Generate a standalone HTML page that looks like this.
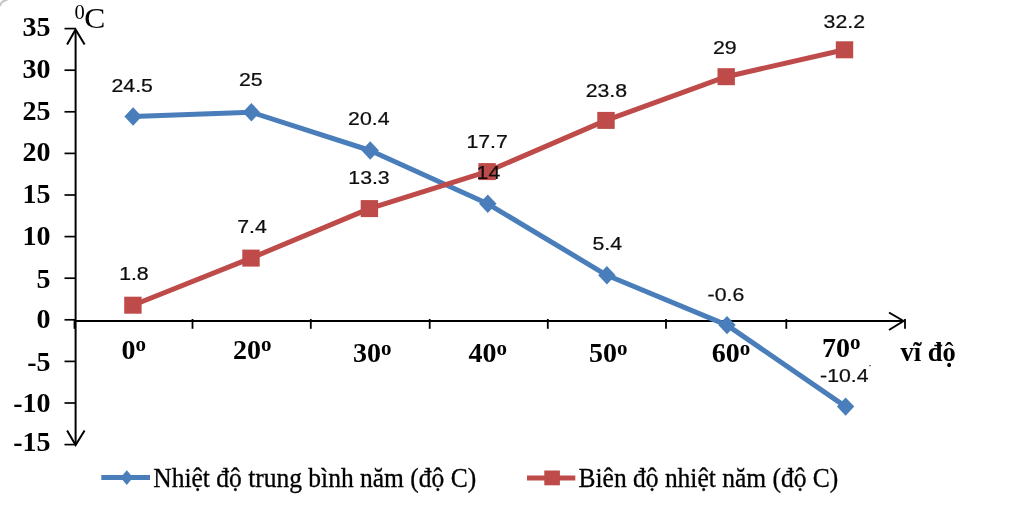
<!DOCTYPE html>
<html lang="vi"><head><meta charset="utf-8"><title>Biểu đồ nhiệt độ theo vĩ độ</title>
<style>
html,body{margin:0;padding:0;background:#fff;}
body{width:1024px;height:526px;overflow:hidden;position:relative;}
svg{position:absolute;left:0;top:0;display:block;}
.yl{font-family:"Liberation Serif",serif;font-weight:bold;font-size:28px;fill:#000;text-anchor:end;}
.xl{font-family:"Liberation Serif",serif;font-weight:bold;font-size:28px;fill:#000;}
.vd{font-family:"Liberation Serif",serif;font-weight:bold;font-size:26.5px;fill:#000;}
.lg{font-family:"Liberation Serif",serif;font-size:25.5px;fill:#000;stroke:#000;stroke-width:0.3px;}
.dl{font-family:"Liberation Sans",sans-serif;font-size:18.5px;fill:#111;text-anchor:middle;stroke:#111;stroke-width:0.25px;}
</style></head><body>
<svg width="1024" height="526" viewBox="0 0 1024 526">
<defs><filter id="soft" x="-2%" y="-2%" width="104%" height="104%"><feGaussianBlur stdDeviation="0.5"/></filter></defs>
<rect width="1024" height="526" fill="#fff"/>
<g filter="url(#soft)">
<path d="M0 6 A8 8 0 0 1 7.5 0" fill="none" stroke="#c6c6c6" stroke-width="2"/>

<g stroke="#000" stroke-width="2" fill="none" stroke-linecap="butt">
<line x1="75.6" y1="30" x2="75.6" y2="444"/>
<line x1="74.6" y1="321" x2="903" y2="321"/>
<line x1="64.5" y1="28.6" x2="75.6" y2="28.6" stroke-width="1.7"/>
<line x1="64.5" y1="70.2" x2="75.6" y2="70.2" stroke-width="1.7"/>
<line x1="64.5" y1="111.8" x2="75.6" y2="111.8" stroke-width="1.7"/>
<line x1="64.5" y1="153.4" x2="75.6" y2="153.4" stroke-width="1.7"/>
<line x1="64.5" y1="195.0" x2="75.6" y2="195.0" stroke-width="1.7"/>
<line x1="64.5" y1="236.6" x2="75.6" y2="236.6" stroke-width="1.7"/>
<line x1="64.5" y1="278.2" x2="75.6" y2="278.2" stroke-width="1.7"/>
<line x1="64.5" y1="319.8" x2="75.6" y2="319.8" stroke-width="1.7"/>
<line x1="64.5" y1="361.4" x2="75.6" y2="361.4" stroke-width="1.7"/>
<line x1="64.5" y1="403.0" x2="75.6" y2="403.0" stroke-width="1.7"/>
<line x1="64.5" y1="444.6" x2="75.6" y2="444.6" stroke-width="1.7"/>
<line x1="74.5" y1="319" x2="74.5" y2="328.8" stroke-width="1.8"/>
<line x1="192.5" y1="319" x2="192.5" y2="328.8" stroke-width="1.8"/>
<line x1="310.8" y1="319" x2="310.8" y2="328.8" stroke-width="1.8"/>
<line x1="429.7" y1="319" x2="429.7" y2="328.8" stroke-width="1.8"/>
<line x1="547.8" y1="319" x2="547.8" y2="328.8" stroke-width="1.8"/>
<line x1="666.0" y1="319" x2="666.0" y2="328.8" stroke-width="1.8"/>
<line x1="786.3" y1="319" x2="786.3" y2="328.8" stroke-width="1.8"/>
<line x1="905.0" y1="319" x2="905.0" y2="328.8" stroke-width="1.8"/>
<polyline points="67.1,44.5 75.6,29.5 84.6,44.5"/>
<polyline points="67.1,430.5 75.6,445 84.6,430.5"/>
<polyline points="889,312.5 903.5,321 889,330"/>
</g>
<text class="yl" x="50.5" y="36.1">35</text>
<text class="yl" x="50.5" y="78.1">30</text>
<text class="yl" x="50.5" y="119.6">25</text>
<text class="yl" x="50.5" y="160.8">20</text>
<text class="yl" x="50.5" y="203.4">15</text>
<text class="yl" x="50.5" y="245.3">10</text>
<text class="yl" x="50.5" y="287.5">5</text>
<text class="yl" x="50.5" y="328.2">0</text>
<text class="yl" x="50.5" y="371.1">-5</text>
<text class="yl" x="50.5" y="412.3">-10</text>
<text class="yl" x="50.5" y="451.2">-15</text>
<text class="xl" x="121.5" y="358.5">0<tspan font-size="21" dy="-7.3">o</tspan></text>
<text class="xl" x="233" y="358.5">20<tspan font-size="21" dy="-7.3">o</tspan></text>
<text class="xl" x="353" y="362">30<tspan font-size="21" dy="-7.3">o</tspan></text>
<text class="xl" x="468.5" y="362">40<tspan font-size="21" dy="-7.3">o</tspan></text>
<text class="xl" x="589" y="362">50<tspan font-size="21" dy="-7.3">o</tspan></text>
<text class="xl" x="711.8" y="362">60<tspan font-size="21" dy="-7.3">o</tspan></text>
<text class="xl" x="822" y="356.5">70<tspan font-size="21" dy="-7.3">o</tspan></text>
<text class="vd" x="900.5" y="361.2">vĩ độ</text>
<text class="lg" x="74.5" y="18.8" style="font-size:20.5px;stroke:none">0</text>
<text class="lg" transform="translate(84.3,27.8) scale(1.09,1)" style="font-size:29px;stroke:none">C</text>
<polyline points="133.1,116.5 251.4,112.3 370.2,150.5 487.8,203.8 606.9,275.3 727.0,325.1 845.6,406.6" fill="none" stroke="#4a7ebb" stroke-width="5" stroke-linejoin="round" stroke-linecap="round"/>
<path d="M124.4 116.5 L133.1 107.3 L141.8 116.5 L133.1 125.7 Z" fill="#4a7ebb"/>
<path d="M242.7 112.3 L251.4 103.1 L260.1 112.3 L251.4 121.5 Z" fill="#4a7ebb"/>
<path d="M361.5 150.5 L370.2 141.3 L378.9 150.5 L370.2 159.7 Z" fill="#4a7ebb"/>
<path d="M479.1 203.8 L487.8 194.6 L496.5 203.8 L487.8 213.0 Z" fill="#4a7ebb"/>
<path d="M598.2 275.3 L606.9 266.1 L615.6 275.3 L606.9 284.5 Z" fill="#4a7ebb"/>
<path d="M718.3 325.1 L727.0 315.9 L735.7 325.1 L727.0 334.3 Z" fill="#4a7ebb"/>
<path d="M836.9 406.6 L845.6 397.4 L854.3 406.6 L845.6 415.8 Z" fill="#4a7ebb"/>
<polyline points="132.9,305.2 251.0,258.1 369.4,208.6 487.1,171.6 606.0,120.4 726.2,76.7 844.5,49.8" fill="none" stroke="#be4b48" stroke-width="5" stroke-linejoin="round" stroke-linecap="round"/>
<rect x="124.2" y="296.7" width="17.4" height="17" fill="#be4b48"/>
<rect x="242.3" y="249.6" width="17.4" height="17" fill="#be4b48"/>
<rect x="360.7" y="200.1" width="17.4" height="17" fill="#be4b48"/>
<rect x="478.4" y="163.1" width="17.4" height="17" fill="#be4b48"/>
<rect x="597.3" y="111.9" width="17.4" height="17" fill="#be4b48"/>
<rect x="717.5" y="68.2" width="17.4" height="17" fill="#be4b48"/>
<rect x="835.8" y="41.3" width="17.4" height="17" fill="#be4b48"/>
<text class="dl" transform="translate(132.2,91.5) scale(1.15,1)">24.5</text>
<text class="dl" transform="translate(250.8,86) scale(1.15,1)">25</text>
<text class="dl" transform="translate(368.8,124.5) scale(1.15,1)">20.4</text>
<text class="dl" transform="translate(488.4,179) scale(1.15,1)">14</text>
<text class="dl" transform="translate(607.2,250) scale(1.15,1)">5.4</text>
<text class="dl" transform="translate(725.9,301) scale(1.15,1)">-0.6</text>
<text class="dl" transform="translate(844.3,382.0) scale(1.15,1)">-10.4</text>
<text class="dl" transform="translate(133.9,280) scale(1.15,1)">1.8</text>
<text class="dl" transform="translate(252,232.5) scale(1.15,1)">7.4</text>
<text class="dl" transform="translate(369,183.5) scale(1.15,1)">13.3</text>
<text class="dl" transform="translate(487.1,147.5) scale(1.15,1)">17.7</text>
<text class="dl" transform="translate(606.4,96.5) scale(1.15,1)">23.8</text>
<text class="dl" transform="translate(724.7,53.7) scale(1.15,1)">29</text>
<text class="dl" transform="translate(844.3,27.5) scale(1.15,1)">32.2</text>
<line x1="869" y1="366" x2="871" y2="365.5" stroke="#555" stroke-width="1"/>
<line x1="101.3" y1="477.6" x2="150" y2="477.6" stroke="#4a7ebb" stroke-width="5"/>
<path d="M120.5 477.6 L126.8 470.3 L133 477.6 L126.8 485 Z" fill="#4a7ebb"/>
<text class="lg" transform="translate(153.3,487.2) scale(1,1.06)">Nhiệt độ trung bình năm (độ C)</text>
<line x1="527" y1="478" x2="575.3" y2="478" stroke="#be4b48" stroke-width="5"/>
<rect x="544.3" y="470.5" width="15.6" height="14.8" fill="#be4b48"/>
<text class="lg" transform="translate(578.5,487.2) scale(1,1.06)">Biên độ nhiệt năm (độ C)</text>
</g></svg></body></html>
